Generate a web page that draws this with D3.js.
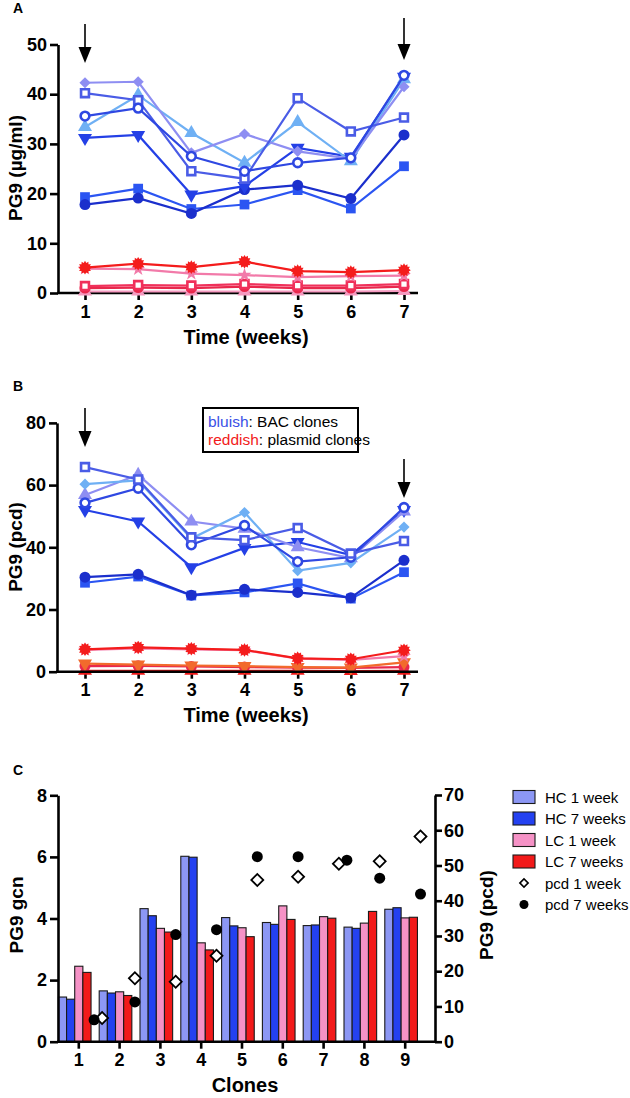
<!DOCTYPE html>
<html><head><meta charset="utf-8">
<script src="https://cdn.jsdelivr.net/npm/d3@7"></script>
<style>body{margin:0;background:#fff} svg{display:block} text{font-family:"Liberation Sans",Arial,Helvetica,sans-serif}</style>
</head><body><svg id="c" width="630" height="1098"></svg>
<script>
// ---------- DATA ----------
const weeks = [1, 2, 3, 4, 5, 6, 7];
const yTicksA = [0, 10, 20, 30, 40, 50];
const yTicksB = [0, 20, 40, 60, 80];
const yTicksC = [0, 2, 4, 6, 8];
const yTicksC2 = [0, 10, 20, 30, 40, 50, 60, 70];

// Panel A (PG9 µg/ml) – BAC clones (bluish)
const aBacLavDiamond  = [42.3, 42.5, 28.2, 32.0, 28.5, 27.0, 41.5];
const aBacSkyTriangle = [33.4, 39.8, 32.2, 26.2, 34.4, 26.5, 43.0];
const aBacOpenSquare  = [40.2, 38.8, 24.5, 23.0, 39.2, 32.5, 35.3];
const aBacOpenCircle  = [35.6, 37.2, 27.5, 24.5, 26.2, 27.2, 43.8];
const aBacDownTri     = [31.2, 31.8, 19.8, 21.5, 29.2, 27.4, 43.5];
const aBacCircle      = [17.8, 19.1, 16.0, 20.8, 21.7, 19.0, 31.8];
const aBacSquare      = [19.3, 21.0, 16.9, 17.8, 20.7, 17.0, 25.5];
// Panel A – plasmid clones (reddish)
const aPlBurst      = [5.1, 5.9, 5.2, 6.3, 4.4, 4.2, 4.6];
const aPlStar       = [4.9, 4.8, 3.9, 3.6, 3.2, 3.4, 3.5];
const aPlOpenSquare = [1.4, 1.6, 1.5, 1.8, 1.5, 1.5, 1.8];
const aPlCircle     = [1.0, 1.1, 1.0, 1.3, 1.0, 1.0, 1.3];
const aPlTriangle   = [0.3, 0.3, 0.3, 0.3, 0.3, 0.3, 0.4];

// Panel B (PG9 pcd) – BAC clones
const bBacOpenSquare  = [65.8, 61.8, 43.2, 42.3, 46.2, 38.0, 42.0];
const bBacSkyDiamond  = [60.3, 61.5, 42.8, 51.2, 32.5, 35.0, 46.5];
const bBacLavTriangle = [56.8, 63.3, 48.3, 46.0, 40.0, 36.5, 51.5];
const bBacOpenCircle  = [54.3, 59.0, 40.8, 47.0, 35.4, 36.8, 52.8];
const bBacDownTri     = [52.0, 48.3, 33.6, 39.8, 41.7, 37.5, 52.0];
const bBacCircle      = [30.4, 31.3, 24.6, 26.5, 25.5, 23.8, 35.8];
const bBacSquare      = [28.6, 30.6, 24.5, 25.5, 28.4, 23.5, 32.0];
// Panel B – plasmid clones
const bPlBurst    = [7.2, 7.8, 7.4, 7.0, 4.3, 4.0, 6.9];
const bPlStar     = [7.0, 7.5, 7.2, 6.9, 4.2, 3.8, 5.0];
const bPlDownTri  = [2.6, 2.3, 2.0, 1.8, 1.5, 1.3, 3.0];
const bPlCircle   = [1.8, 1.9, 1.7, 1.5, 1.3, 1.2, 1.5];
const bPlTriangle = [0.3, 0.3, 0.3, 0.3, 0.3, 0.2, 0.3];

// Panel C
const clones    = [1, 2, 3, 4, 5, 6, 7, 8, 9];
const hc1Week   = [1.45, 1.65, 4.32, 6.02, 4.03, 3.87, 3.77, 3.72, 4.30];
const hc7Weeks  = [1.38, 1.58, 4.09, 5.99, 3.76, 3.81, 3.79, 3.68, 4.35];
const lc1Week   = [2.45, 1.62, 3.68, 3.21, 3.70, 4.41, 4.06, 3.85, 4.02];
const lc7Weeks  = [2.25, 1.50, 3.56, 2.98, 3.41, 3.97, 4.01, 4.23, 4.04];
const pcd1Week  = [6.7, 18.0, 17.0, 24.4, 45.9, 46.8, 50.5, 51.2, 58.2];
const pcd7Weeks = [6.2, 11.3, 30.4, 31.8, 52.5, 52.5, 51.5, 46.4, 41.9];
const barKeys   = ["HC 1 week", "HC 7 weeks", "LC 1 week", "LC 7 weeks"];
const legendC   = ["HC 1 week", "HC 7 weeks", "LC 1 week", "LC 7 weeks", "pcd 1 week", "pcd 7 weeks"];

// ---------- STYLE ----------
const C = {
  lav: "#8e8ef2", sky: "#6fb0f4", oSq: "#4a5ce6", oCi: "#2f48e2", dTri: "#2440e6",
  dCi: "#1b2fcc", sq: "#2b55f2",
  burst: "#f41c1c", star: "#f27aa9", pSq: "#f0305a", pCi: "#e8284c", pTri: "#f59ac0",
  orange: "#f26a2c", redTri: "#f01818",
  hc1: "#8c97f4", hc7: "#2441f0", lc1: "#f592c6", lc7: "#f21a1a"
};

const svg = d3.select("#c");
const FONT = '"Liberation Sans",Arial,Helvetica,sans-serif';
const diamondPath = s => d3.symbol(d3.symbolSquare, s)();

function burstPath(r) {
  const n = 12, ri = r * 0.72; let p = "";
  for (let i = 0; i < n * 2; i++) {
    const a = Math.PI * i / n - Math.PI / 2, rr = i % 2 ? ri : r;
    p += (i ? "L" : "M") + (rr * Math.cos(a)).toFixed(2) + "," + (rr * Math.sin(a)).toFixed(2);
  }
  return p + "Z";
}

function marker(g, type, color, x, y) {
  const s = g.append("path").attr("transform", `translate(${x},${y})`);
  switch (type) {
    case "diamond": s.attr("d", diamondPath(62)).attr("fill", color)
                     .attr("transform", `translate(${x},${y}) rotate(45)`); break;
    case "tri": s.attr("d", d3.symbol(d3.symbolTriangle, 85)()).attr("fill", color); break;
    case "dtri": s.attr("d", d3.symbol(d3.symbolTriangle, 85)()).attr("fill", color)
                  .attr("transform", `translate(${x},${y}) rotate(180)`); break;
    case "circle": s.attr("d", d3.symbol(d3.symbolCircle, 95)()).attr("fill", color); break;
    case "square": s.attr("d", d3.symbol(d3.symbolSquare, 95)()).attr("fill", color); break;
    case "ocircle": s.attr("d", d3.symbol(d3.symbolCircle, 60)()).attr("fill", "#fff")
                     .attr("stroke", color).attr("stroke-width", 2.6); break;
    case "osquare": s.attr("d", d3.symbol(d3.symbolSquare, 62)()).attr("fill", "#fff")
                     .attr("stroke", color).attr("stroke-width", 2.6); break;
    case "burst": s.attr("d", burstPath(6.8)).attr("fill", color); break;
    case "star": s.attr("d", d3.symbol(d3.symbolStar, 60)()).attr("fill", color); break;
  }
}

function drawSeries(g, x, y, vals, type, color) {
  const line = d3.line().x((d, i) => x(weeks[i])).y(d => y(d));
  g.append("path").attr("d", line(vals)).attr("fill", "none")
    .attr("stroke", color).attr("stroke-width", 2.2);
  vals.forEach((v, i) => marker(g, type, color, x(weeks[i]), y(v)));
}

function styleAxis(g) {
  g.selectAll("path,line").attr("stroke", "#000").attr("stroke-width", 2.6);
  g.selectAll("text").attr("font-size", 18).attr("font-weight", "bold")
    .attr("fill", "#000").attr("font-family", FONT);
}

function arrow(g, x, y1, y2) {
  g.append("line").attr("x1", x).attr("x2", x).attr("y1", y1).attr("y2", y2 - 14)
    .attr("stroke", "#000").attr("stroke-width", 1.6);
  g.append("path").attr("d", `M${x - 6.5},${y2 - 16}L${x + 6.5},${y2 - 16}L${x},${y2}Z`).attr("fill", "#000");
}

function label(txt, x, y, size, rot, weight) {
  const t = svg.append("text").attr("x", x).attr("y", y).attr("text-anchor", "middle")
    .attr("font-size", size).attr("font-weight", weight || "bold").attr("font-family", FONT)
    .attr("dominant-baseline", "central").text(txt);
  if (rot) t.attr("transform", `rotate(${rot},${x},${y})`);
  return t;
}

// ---------- PANEL A ----------
const xA = d3.scaleLinear().domain([1, 7]).range([85, 404]);
const yA = d3.scaleLinear().domain([0, 50]).range([293, 44.5]);
{
  const g = svg.append("g");
  const ya = g.append("g").attr("transform", "translate(58,0)")
    .call(d3.axisLeft(yA).tickValues(yTicksA).tickSize(8).tickPadding(3).tickSizeOuter(0));
  styleAxis(ya);
  const xa = g.append("g").attr("transform", `translate(0,${yA(0)})`)
    .call(d3.axisBottom(xA).tickValues(weeks).tickFormat(d3.format("d")).tickSize(7).tickPadding(5).tickSizeOuter(0));
  xa.select(".domain").remove();
  styleAxis(xa);
  g.append("line").attr("x1", 57).attr("x2", 418).attr("y1", yA(0)).attr("y2", yA(0))
    .attr("stroke", "#000").attr("stroke-width", 2.6);

  const p = g.append("g");
  drawSeries(p, xA, yA, aPlTriangle, "tri", C.pTri);
  drawSeries(p, xA, yA, aPlCircle, "circle", C.pCi);
  drawSeries(p, xA, yA, aPlOpenSquare, "osquare", C.pSq);
  drawSeries(p, xA, yA, aPlStar, "star", C.star);
  drawSeries(p, xA, yA, aPlBurst, "burst", C.burst);
  drawSeries(p, xA, yA, aBacSquare, "square", C.sq);
  drawSeries(p, xA, yA, aBacCircle, "circle", C.dCi);
  drawSeries(p, xA, yA, aBacDownTri, "dtri", C.dTri);
  drawSeries(p, xA, yA, aBacSkyTriangle, "tri", C.sky);
  drawSeries(p, xA, yA, aBacLavDiamond, "diamond", C.lav);
  drawSeries(p, xA, yA, aBacOpenSquare, "osquare", C.oSq);
  drawSeries(p, xA, yA, aBacOpenCircle, "ocircle", C.oCi);

  arrow(g, xA(1), 24, 63);
  arrow(g, xA(7), 18, 60);
  label("A", 18, 8, 14);
  label("PG9 (µg/ml)", 15, 168, 19, -90);
  label("Time (weeks)", 246, 337, 20);
}

// ---------- PANEL B ----------
const xB = d3.scaleLinear().domain([1, 7]).range([85, 404]);
const yB = d3.scaleLinear().domain([0, 80]).range([671.7, 422.9]);
{
  const g = svg.append("g");
  const ya = g.append("g").attr("transform", "translate(57,0)")
    .call(d3.axisLeft(yB).tickValues(yTicksB).tickSize(8).tickPadding(3).tickSizeOuter(0));
  styleAxis(ya);
  const xa = g.append("g").attr("transform", `translate(0,${yB(0)})`)
    .call(d3.axisBottom(xB).tickValues(weeks).tickFormat(d3.format("d")).tickSize(7).tickPadding(5).tickSizeOuter(0));
  xa.select(".domain").remove();
  styleAxis(xa);

  const p = g.append("g");
  drawSeries(p, xB, yB, bPlTriangle, "tri", C.redTri);
  drawSeries(p, xB, yB, bPlCircle, "circle", C.pCi);
  drawSeries(p, xB, yB, bPlDownTri, "dtri", C.orange);
  drawSeries(p, xB, yB, bPlStar, "star", C.star);
  drawSeries(p, xB, yB, bPlBurst, "burst", C.burst);
  g.append("line").attr("x1", 56).attr("x2", 418).attr("y1", yB(0)).attr("y2", yB(0))
    .attr("stroke", "#000").attr("stroke-width", 2.6);
  drawSeries(p, xB, yB, bBacSquare, "square", C.sq);
  drawSeries(p, xB, yB, bBacCircle, "circle", C.dCi);
  drawSeries(p, xB, yB, bBacDownTri, "dtri", C.dTri);
  drawSeries(p, xB, yB, bBacLavTriangle, "tri", C.lav);
  drawSeries(p, xB, yB, bBacSkyDiamond, "diamond", C.sky);
  drawSeries(p, xB, yB, bBacOpenCircle, "ocircle", C.oCi);
  drawSeries(p, xB, yB, bBacOpenSquare, "osquare", C.oSq);

  arrow(g, xB(1), 408, 447);
  arrow(g, xB(7), 459, 498);

  // legend box
  g.append("rect").attr("x", 203).attr("y", 408).attr("width", 155).attr("height", 44)
    .attr("fill", "#fff").attr("stroke", "#000").attr("stroke-width", 2);
  const t1 = g.append("text").attr("x", 208).attr("y", 421).attr("dominant-baseline", "central")
    .attr("font-size", 15.5).attr("font-family", FONT);
  t1.append("tspan").attr("fill", "#3a50e6").text("bluish");
  t1.append("tspan").attr("fill", "#000").text(": BAC clones");
  const t2 = g.append("text").attr("x", 208).attr("y", 439).attr("dominant-baseline", "central")
    .attr("font-size", 15.5).attr("font-family", FONT);
  t2.append("tspan").attr("fill", "#f21a1a").text("reddish");
  t2.append("tspan").attr("fill", "#000").text(": plasmid clones");

  label("B", 18, 386, 14);
  label("PG9 (pcd)", 15, 547, 19, -90);
  label("Time (weeks)", 246, 715, 20);
}

// ---------- PANEL C ----------
const xC = d3.scaleBand().domain(clones).range([58.4, 58.4 + 9 * 40.8]).padding(0);
const xSub = d3.scaleBand().domain(barKeys).range([0, xC.bandwidth() * 0.8]).padding(0);
const yC = d3.scaleLinear().domain([0, 8]).range([1041.7, 795.3]);
const yC2 = d3.scaleLinear().domain([0, 70]).range([1041.7, 795]);
{
  const g = svg.append("g");
  const barRows = clones.map((c, i) => ({
    clone: c,
    vals: [hc1Week[i], hc7Weeks[i], lc1Week[i], lc7Weeks[i]],
    p1: pcd1Week[i], p7: pcd7Weeks[i]
  }));
  const barColors = d3.scaleOrdinal().domain(barKeys).range([C.hc1, C.hc7, C.lc1, C.lc7]);

  const grp = g.selectAll("g.grp").data(barRows).join("g").attr("class", "grp")
    .attr("transform", d => `translate(${xC(d.clone)},0)`);
  grp.selectAll("rect").data(d => d.vals.map((v, k) => ({ key: barKeys[k], v })))
    .join("rect")
    .attr("x", d => xSub(d.key)).attr("width", xSub.bandwidth())
    .attr("y", d => yC(d.v)).attr("height", d => yC(0) - yC(d.v))
    .attr("fill", d => barColors(d.key)).attr("stroke", "#1a1a1a").attr("stroke-width", 1.1);

  const ya = g.append("g").attr("transform", "translate(58,0)")
    .call(d3.axisLeft(yC).tickValues(yTicksC).tickSize(8).tickPadding(3).tickSizeOuter(0));
  styleAxis(ya);
  const yr = g.append("g").attr("transform", "translate(435,0)")
    .call(d3.axisRight(yC2).tickValues(yTicksC2).tickSize(7).tickPadding(2).tickSizeOuter(0));
  styleAxis(yr);
  const xa = g.append("g").attr("transform", `translate(0,${yC(0)})`)
    .call(d3.axisBottom(xC).tickValues(clones).tickSize(7).tickPadding(5).tickSizeOuter(0));
  xa.select(".domain").remove();
  styleAxis(xa);
  g.append("line").attr("x1", 57).attr("x2", 436).attr("y1", yC(0)).attr("y2", yC(0))
    .attr("stroke", "#000").attr("stroke-width", 2.6);

  // pcd points (small nudges where the two points would overlap)
  const nudge1 = { 1: 8 }, nudge7 = { 7: 8 };
  const dotX = c => xC(c) + xC.bandwidth() * 0.875;
  barRows.forEach(d => {
    const x1 = dotX(d.clone) + (nudge1[d.clone] || 0);
    const x7 = dotX(d.clone) + (nudge7[d.clone] || 0);
    g.append("path").attr("transform", `translate(${x1},${yC2(d.p1)}) rotate(45)`)
      .attr("d", diamondPath(72)).attr("fill", "#fff")
      .attr("stroke", "#000").attr("stroke-width", 1.8);
    g.append("circle").attr("cx", x7).attr("cy", yC2(d.p7)).attr("r", 5.5).attr("fill", "#000");
  });

  // legend
  const lg = g.append("g");
  const rowY = i => 797 + i * 21.5;
  legendC.forEach((name, i) => {
    if (i < 4) {
      lg.append("rect").attr("x", 513).attr("y", rowY(i) - 6.5).attr("width", 22).attr("height", 13)
        .attr("fill", barColors(name)).attr("stroke", "#1a1a1a").attr("stroke-width", 1.1);
    } else if (i === 4) {
      lg.append("path").attr("transform", `translate(524,${rowY(i)}) rotate(45)`)
        .attr("d", diamondPath(34)).attr("fill", "#fff")
        .attr("stroke", "#000").attr("stroke-width", 1.6);
    } else {
      lg.append("circle").attr("cx", 524).attr("cy", rowY(i)).attr("r", 4.5).attr("fill", "#000");
    }
    lg.append("text").attr("x", 545).attr("y", rowY(i)).attr("dominant-baseline", "central")
      .attr("font-size", 15).attr("font-family", FONT).text(name);
  });

  label("C", 18, 770, 14);
  label("PG9 gcn", 16, 915, 19, -90);
  label("PG9 (pcd)", 486, 915, 19, -90);
  label("Clones", 245, 1085, 20);
}
</script></body></html>
